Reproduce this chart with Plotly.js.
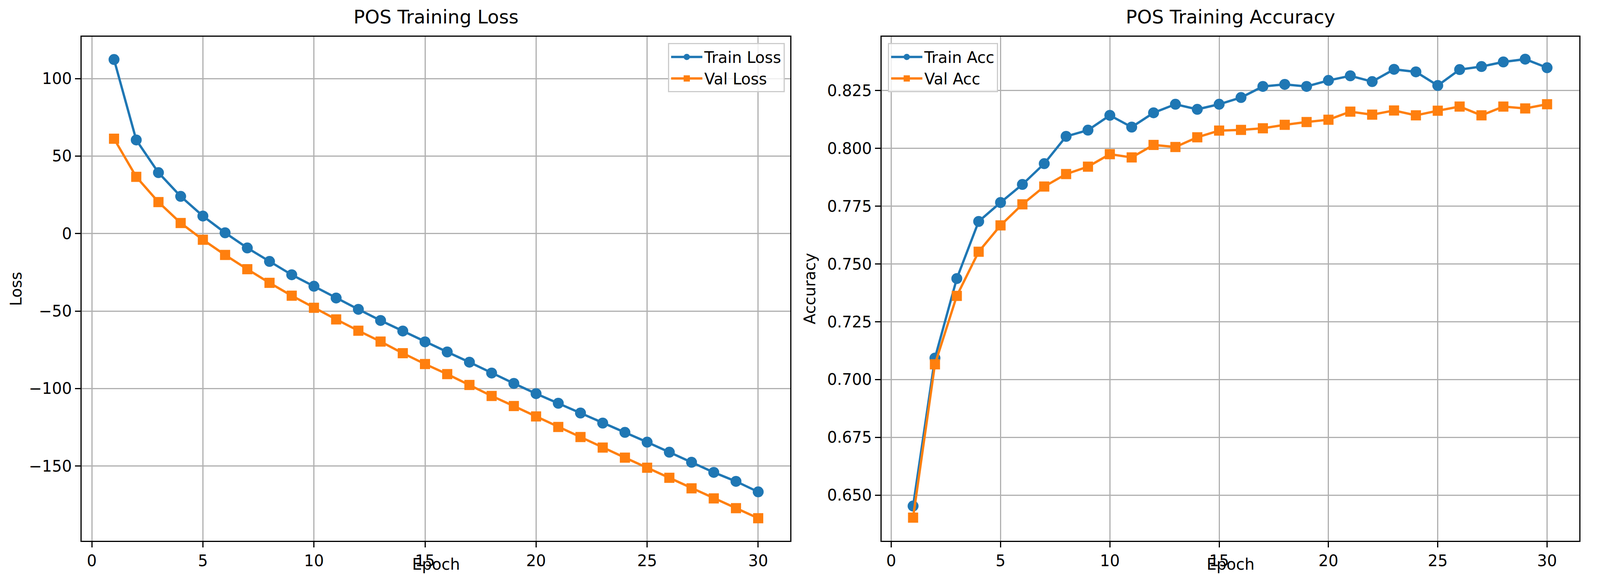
<!DOCTYPE html>
<html>
<head>
<meta charset="utf-8">
<script src="https://cdn.plot.ly/plotly-3.0.1.min.js"></script>
<style>html,body{margin:0;padding:0;background:#fff;overflow:hidden}#plot{width:100vw;height:100vh}</style>
</head>
<body>
<div id="plot"></div>
<script>
var epochs = [];
for (var i = 1; i <= 30; i++) epochs.push(i);

var trainLoss = [112.3, 60.4, 39.3, 24.0, 11.3, 0.5, -9.3, -18.0, -26.6, -34.0,
  -41.6, -48.9, -56.1, -62.9, -69.9, -76.4, -83.0, -90.0, -96.7, -103.3,
  -109.5, -115.8, -122.3, -128.3, -134.6, -141.1, -147.6, -154.1, -159.9, -166.7];
var valLoss = [61.2, 36.6, 20.3, 6.8, -4.0, -13.8, -23.0, -31.8, -40.1, -47.9,
  -55.4, -62.7, -69.7, -77.2, -84.2, -90.7, -97.7, -104.8, -111.3, -118.0,
  -124.8, -131.3, -138.1, -144.6, -151.1, -157.6, -164.4, -170.9, -177.2, -183.7];
var trainAcc = [0.6453, 0.7093, 0.7437, 0.7684, 0.7766, 0.7844, 0.7934, 0.8052, 0.8079, 0.8143,
  0.8092, 0.8154, 0.8191, 0.8169, 0.8191, 0.8220, 0.8268, 0.8277, 0.8268, 0.8294,
  0.8314, 0.8289, 0.8342, 0.8331, 0.8272, 0.8341, 0.8354, 0.8374, 0.8386, 0.8349];
var valAcc = [0.6403, 0.7066, 0.7362, 0.7553, 0.7667, 0.7758, 0.7835, 0.7889, 0.7921, 0.7975,
  0.7961, 0.8015, 0.8006, 0.8048, 0.8077, 0.8080, 0.8087, 0.8102, 0.8114, 0.8124,
  0.8159, 0.8146, 0.8164, 0.8143, 0.8163, 0.8181, 0.8143, 0.8181, 0.8173, 0.8191];

var blue = '#1f77b4', orange = '#ff7f0e';
function tr(y, name, color, sym, xa, ya, leg) {
  return {x: epochs, y: y, name: name, type: 'scatter', mode: 'lines+markers',
    xaxis: xa, yaxis: ya, legend: leg,
    line: {color: color, width: 6},
    marker: {color: color, symbol: sym, size: sym === 'square' ? 26 : 28}};
}
var data = [
  tr(trainLoss, 'Train Loss', blue, 'circle', 'x', 'y', 'legend'),
  tr(valLoss, 'Val Loss', orange, 'square', 'x', 'y', 'legend'),
  tr(trainAcc, 'Train Acc', blue, 'circle', 'x2', 'y2', 'legend2'),
  tr(valAcc, 'Val Acc', orange, 'square', 'x2', 'y2', 'legend2')
];

var font = {family: 'DejaVu Sans', size: 40, color: '#000'};
function ax(extra) {
  var a = {showgrid: true, gridcolor: '#b0b0b0', gridwidth: 3, zeroline: false,
    showline: true, mirror: true, linecolor: '#000', linewidth: 3,
    ticks: 'outside', ticklen: 14, tickwidth: 3, tickcolor: '#000',
    tickfont: font};
  for (var k in extra) a[k] = extra[k];
  return a;
}
var xd1 = [0.051, 0.494], xd2 = [0.551, 0.987], yd = [0.058, 0.936];
function ann(text, x, y, xa, ya, size, rot) {
  return {text: text, xref: 'paper', yref: 'paper', x: x, y: y, xanchor: xa, yanchor: ya,
    textangle: rot || 0, showarrow: false, font: {family: 'DejaVu Sans', size: size, color: '#000'}};
}
var legBase = {bgcolor: 'rgba(255,255,255,0.8)', bordercolor: '#cccccc', borderwidth: 3,
  font: font, itemwidth: 80, tracegroupgap: 0};
var layout = {
  width: window.innerWidth, height: window.innerHeight, margin: {l: 0, r: 0, t: 0, b: 0},
  paper_bgcolor: '#fff', plot_bgcolor: '#fff', font: font, showlegend: true,
  xaxis: ax({domain: xd1, anchor: 'y', range: [-0.46, 31.45], tickvals: [0,5,10,15,20,25,30]}),
  yaxis: ax({domain: yd, anchor: 'x', range: [-198.2, 127], tickvals: [-150,-100,-50,0,50,100],
    ticktext: ['\u2212150','\u2212100','\u221250','0','50','100']}),
  xaxis2: ax({domain: xd2, anchor: 'y2', range: [-0.44, 31.47], tickvals: [0,5,10,15,20,25,30]}),
  yaxis2: ax({domain: yd, anchor: 'x2', range: [0.6303, 0.8483],
    tickvals: [0.65,0.675,0.7,0.725,0.75,0.775,0.8,0.825], tickformat: '.3f'}),
  legend: Object.assign({x: 0.4905, y: 0.925, xanchor: 'right', yanchor: 'top'}, legBase),
  legend2: Object.assign({x: 0.555, y: 0.925, xanchor: 'left', yanchor: 'top'}, legBase),
  annotations: [
    ann('POS Training Loss', 0.2725, 0.95, 'center', 'bottom', 48),
    ann('POS Training Accuracy', 0.769, 0.95, 'center', 'bottom', 48),
    ann('Epoch', 0.2725, 0.0, 'center', 'bottom', 40),
    ann('Epoch', 0.769, 0.0, 'center', 'bottom', 40),
    ann('Loss', 0.004, 0.497, 'left', 'middle', 40, -90),
    ann('Accuracy', 0.5, 0.497, 'left', 'middle', 40, -90)
  ]
};

Plotly.newPlot('plot', data, layout, {staticPlot: true});
</script>
</body>
</html>
